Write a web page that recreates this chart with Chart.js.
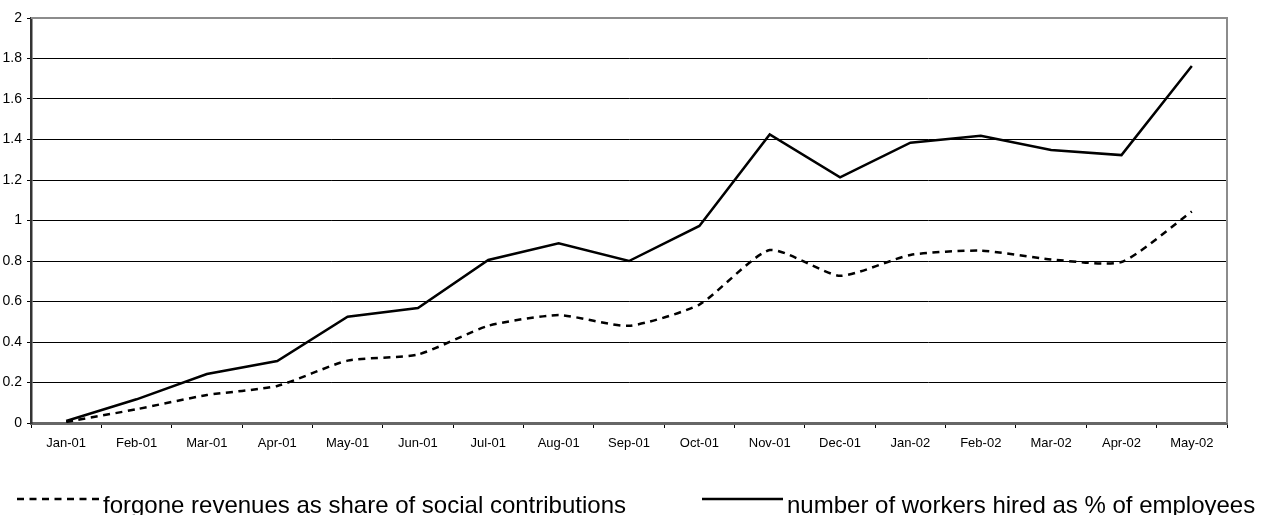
<!DOCTYPE html>
<html>
<head>
<meta charset="utf-8">
<script src="https://cdn.jsdelivr.net/npm/chart.js@4"></script>
<style>
  body { margin: 0; background: #fff; }
  #wrap { position: relative; width: 1261px; height: 515px; overflow: hidden; }
  #chart { position: absolute; left: 0; top: 0; }
  .leg { position: absolute; top: 493px; font: 24px/23px 'Liberation Sans', Arial, sans-serif; color: #000; white-space: nowrap; }
</style>
</head>
<body>
<div id="wrap">
  <canvas id="chart" width="1261" height="465"></canvas>
  <svg width="1261" height="515" style="position:absolute;left:0;top:0">
    <line x1="17" y1="499" x2="100" y2="499" stroke="#000" stroke-width="2.5" stroke-dasharray="7 5.5"/>
    <line x1="702" y1="499" x2="783" y2="499" stroke="#000" stroke-width="2.5"/>
  </svg>
  <div class="leg" style="left:103px">forgone revenues as share of social contributions</div>
  <div class="leg" style="left:787px">number of workers hired as % of employees</div>
</div>
<script>
// months on the x axis
const months = ['Jan-01', 'Feb-01', 'Mar-01', 'Apr-01', 'May-01', 'Jun-01', 'Jul-01', 'Aug-01', 'Sep-01',
  'Oct-01', 'Nov-01', 'Dec-01', 'Jan-02', 'Feb-02', 'Mar-02', 'Apr-02', 'May-02'];

// number of workers hired as % of employees
const workersHired = [0.01, 0.117, 0.242, 0.306, 0.525, 0.568, 0.805, 0.887, 0.80,
  0.973, 1.425, 1.213, 1.384, 1.419, 1.348, 1.323, 1.763];

// forgone revenues as share of social contributions
const forgoneRevenues = [0.005, 0.068, 0.138, 0.183, 0.308, 0.338, 0.48, 0.533, 0.48,
  0.585, 0.854, 0.727, 0.83, 0.851, 0.808, 0.795, 1.045];

const yTicks = [0, 0.2, 0.4, 0.6, 0.8, 1, 1.2, 1.4, 1.6, 1.8, 2];

const fontFamily = "'Liberation Sans', Arial, sans-serif";

// grey frame on top and right, like the old spreadsheet chart
const framePlugin = {
  id: 'frame',
  beforeDatasetsDraw(chart) {
    const { ctx, chartArea } = chart;
    ctx.save();
    ctx.strokeStyle = '#8c8c8c';
    ctx.lineWidth = 2;
    ctx.beginPath();
    ctx.moveTo(chartArea.left, chartArea.top);
    ctx.lineTo(chartArea.right, chartArea.top);
    ctx.lineTo(chartArea.right, chartArea.bottom);
    ctx.stroke();
    ctx.restore();
  }
};

const ctx = document.getElementById('chart').getContext('2d');
new Chart(ctx, {
  type: 'line',
  data: {
    labels: months,
    datasets: [
      {
        label: 'forgone revenues as share of social contributions',
        data: forgoneRevenues,
        borderColor: '#000',
        borderWidth: 2.5,
        borderDash: [7, 5.5],
        pointRadius: 0,
        tension: 0.2,
        fill: false
      },
      {
        label: 'number of workers hired as % of employees',
        data: workersHired,
        borderColor: '#000',
        borderWidth: 2.5,
        pointRadius: 0,
        tension: 0,
        fill: false
      }
    ]
  },
  options: {
    responsive: false,
    animation: false,
    layout: { padding: { top: 18, right: 34, left: 0, bottom: 0 } },
    plugins: {
      legend: { display: false },
      tooltip: { enabled: false }
    },
    scales: {
      x: {
        offset: true,
        grid: {
          offset: true,
          drawOnChartArea: false,
          drawTicks: true,
          tickLength: 5,
          color: '#000'
        },
        border: { display: true, color: '#666', width: 3 },
        ticks: {
          color: '#000',
          font: { family: fontFamily, size: 13 },
          maxRotation: 0,
          autoSkip: false,
          padding: 8
        },
        afterFit(scale) { scale.height = 42; }
      },
      y: {
        min: 0,
        max: 2,
        afterBuildTicks(scale) {
          scale.ticks = yTicks.map(v => ({ value: v }));
        },
        grid: {
          color: '#000',
          lineWidth: 1,
          drawTicks: true,
          tickLength: 4
        },
        border: { display: true, color: '#333', width: 2.5 },
        ticks: {
          color: '#000',
          font: { family: fontFamily, size: 14 },
          padding: 5,
          callback: v => String(Math.round(v * 10) / 10)
        },
        afterFit(scale) { scale.width = 31; }
      }
    }
  },
  plugins: [framePlugin]
});
</script>
</body>
</html>
